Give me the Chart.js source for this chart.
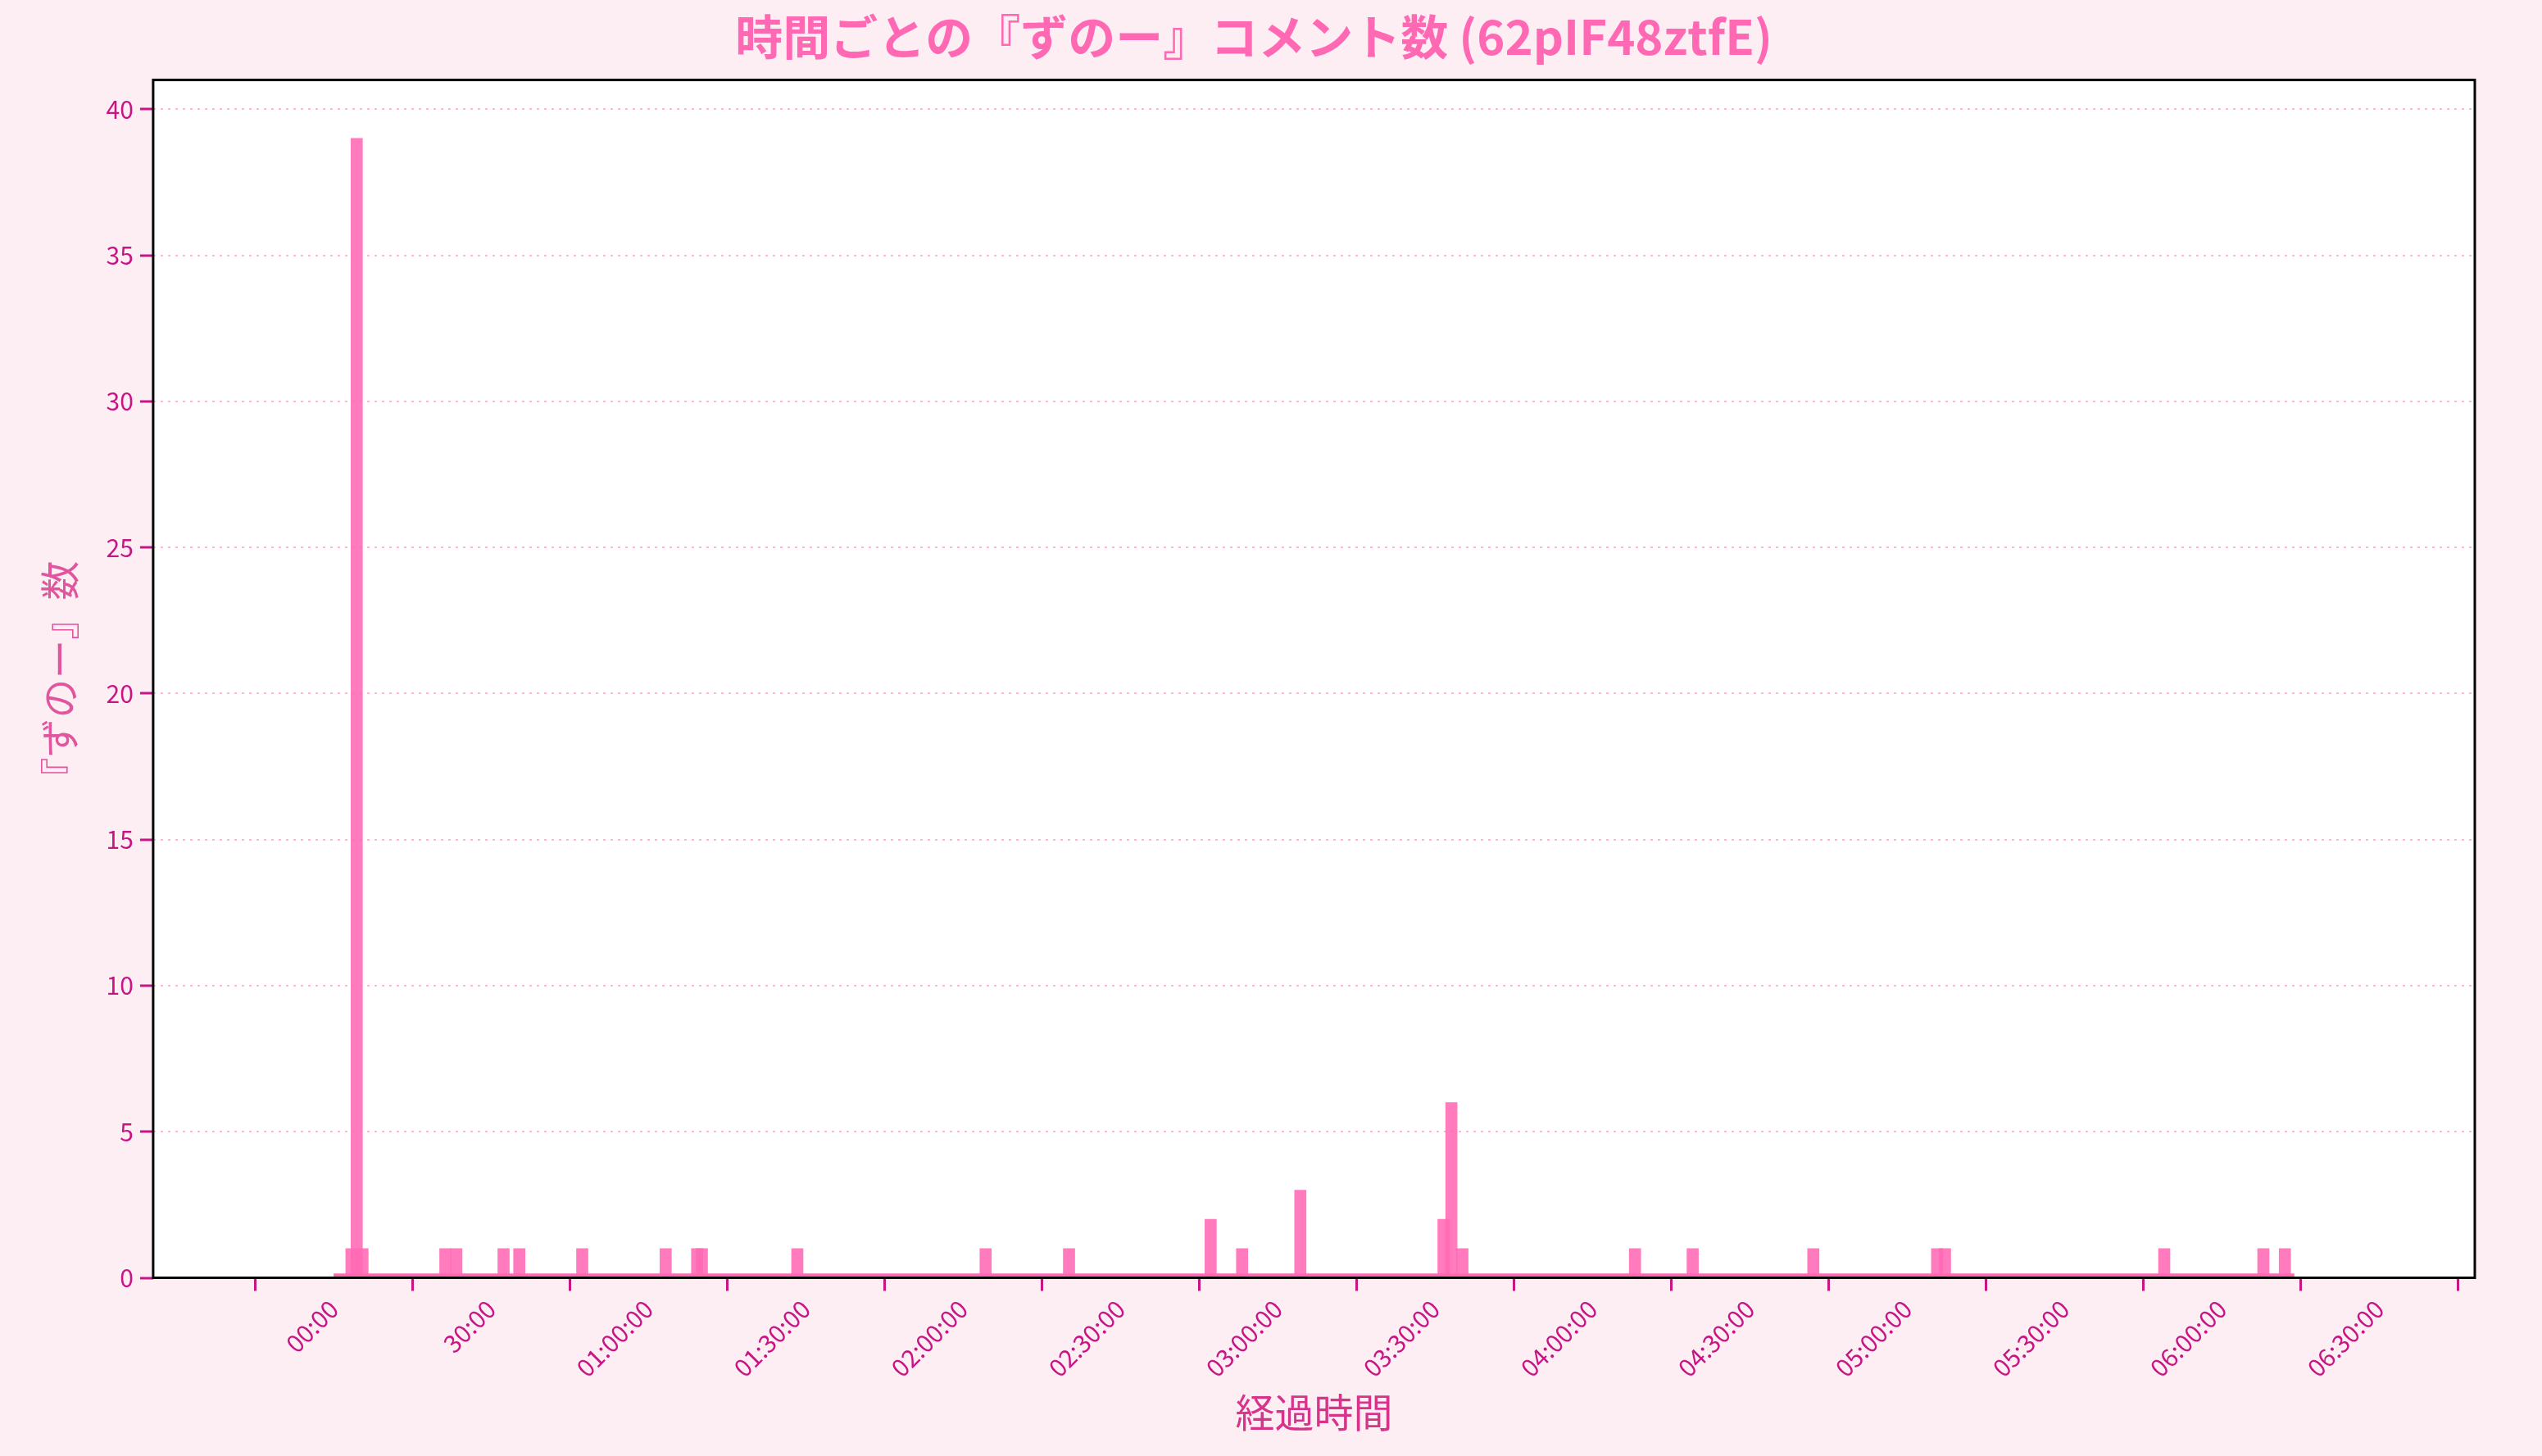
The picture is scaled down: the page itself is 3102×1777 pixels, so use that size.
<!DOCTYPE html>
<html>
<head>
<meta charset="utf-8">
<script src="https://cdn.jsdelivr.net/npm/chart.js@4"></script>
<style>
  html, body { margin: 0; padding: 0; background: #fdeef4; }
  #wrap { width: 3102px; height: 1777px; }
</style>
</head>
<body>
<div id="wrap"><canvas id="zunoChart"></canvas></div>
<script>
// elapsed minutes (bar centre) and comment counts
const minutes = [3.4, 4.4, 5.5, 21.3, 23.4, 32.4, 35.4, 47.4, 63.3, 69.3, 70.2, 88.4,
    124.3, 140.2, 167.2, 173.2, 184.3, 211.6, 213.1, 215.2, 248.1, 259.1, 282.1,
    305.7, 307.2, 349.0, 367.9, 372.0];
const counts = [1, 39, 1, 1, 1, 1, 1, 1, 1, 1, 1, 1,
    1, 1, 2, 1, 3, 2, 6, 1, 1, 1, 1,
    1, 1, 1, 1, 1];
const baselineRange = [0, 373.8];
const xTicks = [0, 30, 60, 90, 120, 150, 180, 210, 240, 270, 300, 330, 360, 390];
const yTicks = [0, 5, 10, 15, 20, 25, 30, 35, 40];

const pink = '#ff69b4';
const deep = '#c71585';
const font = "'Noto Sans CJK JP', 'Noto Sans', sans-serif";

function fmtTime(m) {
    const h = Math.floor(m / 60);
    const mm = String(m % 60).padStart(2, '0');
    if (h === 0) return mm + ':00';
    return String(h).padStart(2, '0') + ':' + mm + ':00';
}

// white plot area + black frame
const framePlugin = {
    id: 'frame',
    beforeDraw(chart) {
        const a = chart.chartArea, c = chart.ctx;
        c.save();
        c.fillStyle = '#ffffff';
        c.fillRect(a.left, a.top, a.right - a.left, a.bottom - a.top);
        c.restore();
    },
    afterDraw(chart) {
        const a = chart.chartArea, c = chart.ctx;
        c.save();
        c.strokeStyle = '#000000';
        c.lineWidth = 3;
        c.strokeRect(a.left, a.top, a.right - a.left, a.bottom - a.top);
        c.restore();
    }
};

const ctx = document.getElementById('zunoChart').getContext('2d');
new Chart(ctx, {
    type: 'bar',
    data: {
        datasets: [
            {
                type: 'line',
                data: baselineRange.map(v => ({ x: v, y: 0.08 })),
                borderColor: pink,
                borderWidth: 5,
                pointRadius: 0,
                order: 2
            },
            {
                data: minutes.map((m, i) => ({ x: m, y: counts[i] })),
                backgroundColor: 'rgba(255, 105, 180, 0.88)',
                barThickness: 14,
                order: 1
            }
        ]
    },
    options: {
        responsive: true,
        maintainAspectRatio: false,
        animation: false,
        layout: { padding: { left: 40, right: 82, top: 10, bottom: 20 } },
        plugins: {
            legend: { display: false },
            tooltip: { enabled: false },
            title: {
                display: true,
                text: '時間ごとの『ずのー』コメント数 (62pIF48ztfE)',
                color: pink,
                font: { family: font, size: 58 },
                padding: { top: 0, bottom: 18 }
            }
        },
        scales: {
            x: {
                type: 'linear',
                min: -18.6,
                max: 392.4,
                afterBuildTicks: axis => { axis.ticks = xTicks.map(v => ({ value: v })); },
                grid: { drawOnChartArea: false, tickLength: 16, tickColor: deep, tickWidth: 3 },
                border: { display: false },
                ticks: {
                    color: deep,
                    font: { family: font, size: 30 },
                    maxRotation: 45,
                    minRotation: 45,
                    padding: 4,
                    callback: v => fmtTime(v)
                },
                title: {
                    display: true,
                    text: '経過時間',
                    color: '#d6338a',
                    font: { family: font, size: 48 },
                    padding: { top: 4 }
                }
            },
            y: {
                min: 0,
                max: 41,
                afterBuildTicks: axis => { axis.ticks = yTicks.map(v => ({ value: v })); },
                grid: { color: 'rgba(255, 105, 180, 0.5)', lineWidth: 2, tickLength: 16, tickColor: deep, tickWidth: 3 },
                border: { display: false, dash: [3, 6] },
                ticks: { color: deep, font: { family: font, size: 30 }, padding: 8 },
                title: {
                    display: true,
                    text: '『ずのー』数',
                    color: '#e0559d',
                    font: { family: font, size: 48 },
                    padding: { bottom: 20 }
                }
            }
        }
    },
    plugins: [framePlugin]
});
</script>
</body>
</html>
